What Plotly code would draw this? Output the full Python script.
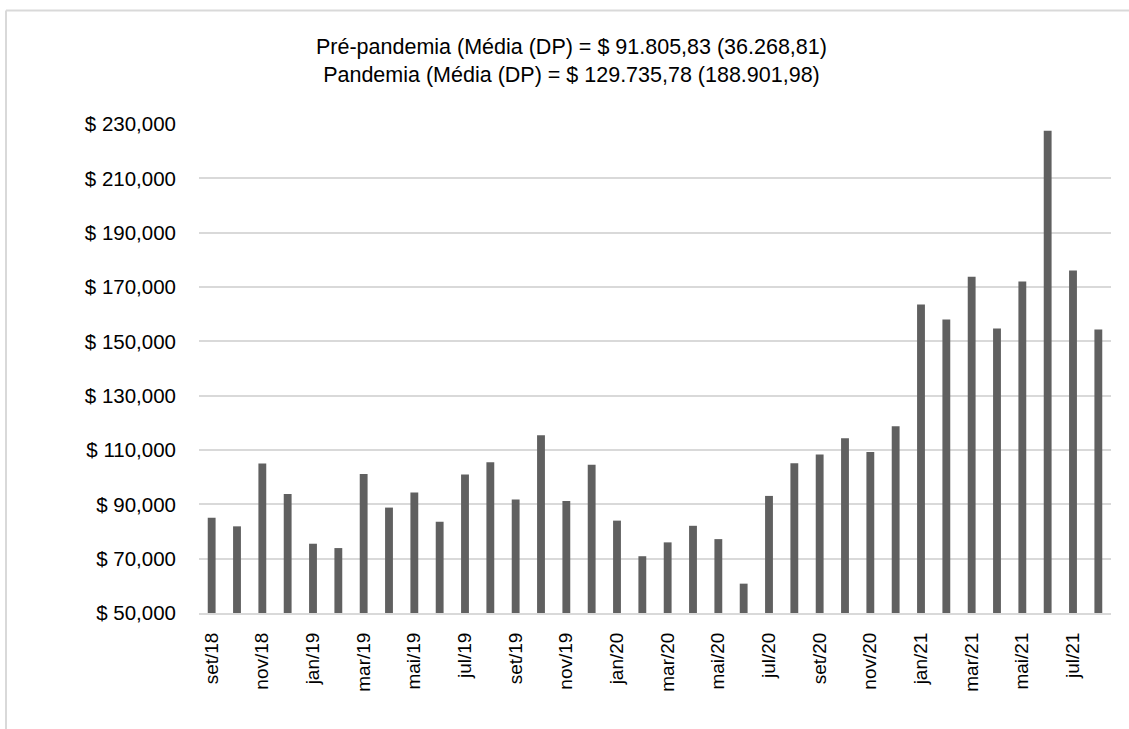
import plotly.graph_objects as go

# Monthly values, Sep/2018 - Aug/2021
months = [
    "set/18", "out/18", "nov/18", "dez/18",
    "jan/19", "fev/19", "mar/19", "abr/19", "mai/19", "jun/19",
    "jul/19", "ago/19", "set/19", "out/19", "nov/19", "dez/19",
    "jan/20", "fev/20", "mar/20", "abr/20", "mai/20", "jun/20",
    "jul/20", "ago/20", "set/20", "out/20", "nov/20", "dez/20",
    "jan/21", "fev/21", "mar/21", "abr/21", "mai/21", "jun/21",
    "jul/21", "ago/21",
]
values = [
    85100, 81900, 105000, 93800,
    75500, 73900, 101200, 88800, 94400, 83600,
    101000, 105500, 91800, 115400, 91200, 104600,
    84000, 70900, 76000, 82100, 77200, 60800,
    93100, 105100, 108300, 114300, 109300, 118700,
    163600, 158000, 173800, 154700, 172000, 227500,
    176100, 154400,
]
shown_months = months[::2]
y_ticks = list(range(50000, 230001, 20000))
y_labels = ["$ " + f"{v:,}" for v in y_ticks]

title_lines = [
    "Pré-pandemia (Média (DP) = $ 91.805,83 (36.268,81)",
    "Pandemia (Média (DP) = $ 129.735,78 (188.901,98)",
]

FLOOR = 50000
GRID = "#d9d9d9"
FONT = "Liberation Sans, Arial, sans-serif"

fig = go.Figure(
    go.Bar(
        x=months,
        y=[v - FLOOR for v in values],
        base=FLOOR,
        marker=dict(color="#606060", line=dict(width=0)),
        hovertemplate="%{x}: $ %{customdata:,}<extra></extra>",
        customdata=values,
    )
)

fig.update_layout(
    width=1129,
    height=729,
    margin=dict(l=199, r=18, t=124, b=116),
    paper_bgcolor="white",
    plot_bgcolor="white",
    bargap=0.69,
    showlegend=False,
    font=dict(family=FONT, size=16, color="#000000"),
    xaxis=dict(
        type="category",
        tickmode="array",
        tickvals=shown_months,
        ticktext=shown_months,
        tickangle=-90,
        showgrid=False,
        showline=True,
        linecolor=GRID,
        linewidth=2,
        ticks="",
        ticklabelstandoff=10,
        tickfont=dict(size=19),
    ),
    yaxis=dict(
        range=[FLOOR, 230000],
        tickmode="array",
        tickvals=y_ticks,
        ticktext=y_labels,
        showgrid=True,
        gridcolor=GRID,
        gridwidth=1.5,
        zeroline=False,
        showline=False,
        ticks="",
        ticklabelstandoff=22,
        tickfont=dict(size=20.5),
    ),
    annotations=[
        dict(
            text="<br>".join(title_lines),
            xref="paper", yref="paper",
            x=(571 - 199) / 912, y=(613 - 61) / 489,
            xanchor="center", yanchor="middle",
            showarrow=False,
            align="center",
            font=dict(family=FONT, size=21.5, color="#000000"),
        )
    ],
    shapes=[
        dict(type="line", xref="paper", yref="paper",
             x0=(6 - 199) / 912, x1=(1135 - 199) / 912,
             y0=(613 - 10.5) / 489, y1=(613 - 10.5) / 489,
             line=dict(color=GRID, width=2)),
        dict(type="line", xref="paper", yref="paper",
             x0=(6 - 199) / 912, x1=(6 - 199) / 912,
             y0=(613 - 10.5) / 489, y1=(613 - 735) / 489,
             line=dict(color=GRID, width=2)),
    ],
)

fig.write_html("out.html")
